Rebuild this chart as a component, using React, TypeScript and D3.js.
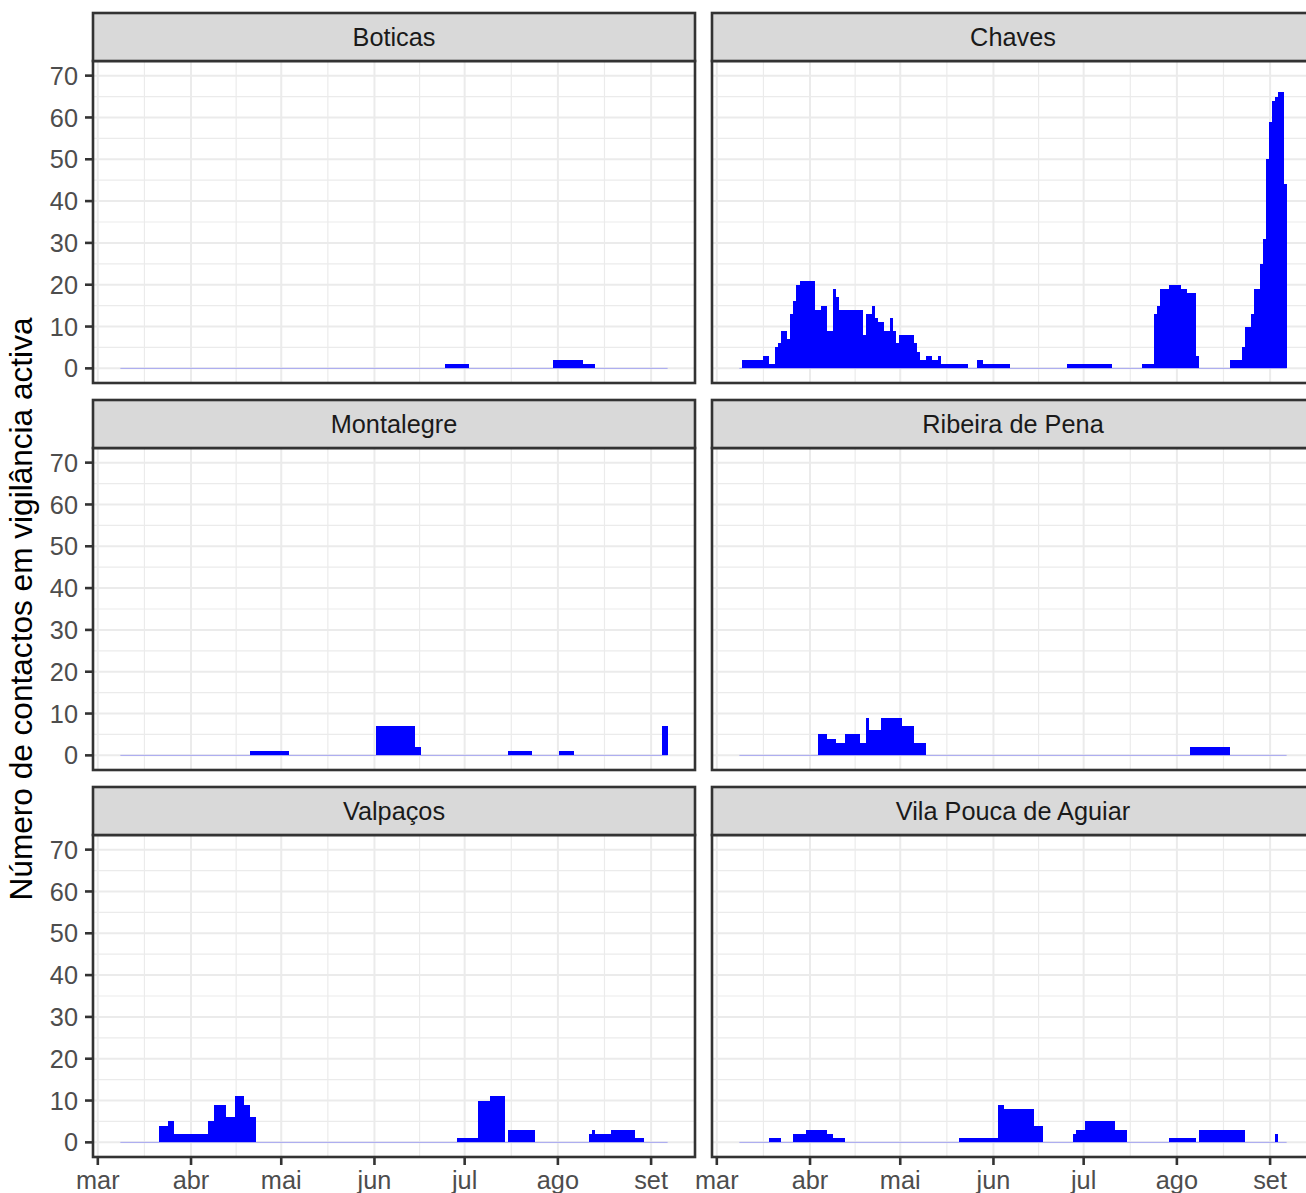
import * as d3 from 'd3';

// Contactos em vigilância activa por dia, a partir de 9 de Março de 2020
const START = new Date(2020, 2, 9);

const municipios = [
  'Boticas',
  'Chaves',
  'Montalegre',
  'Ribeira de Pena',
  'Valpaços',
  'Vila Pouca de Aguiar',
];

const boticas = [
  0, 0, 0, 0, 0, 0, 0, 0, 0, 0, 0, 0, 0, 0, 0, 0, 0, 0, 0, 0,
  0, 0, 0, 0, 0, 0, 0, 0, 0, 0, 0, 0, 0, 0, 0, 0, 0, 0, 0, 0,
  0, 0, 0, 0, 0, 0, 0, 0, 0, 0, 0, 0, 0, 0, 0, 0, 0, 0, 0, 0,
  0, 0, 0, 0, 0, 0, 0, 0, 0, 0, 0, 0, 0, 0, 0, 0, 0, 0, 0, 0,
  0, 0, 0, 0, 0, 0, 0, 0, 0, 0, 0, 0, 0, 0, 0, 0, 0, 0, 0, 0,
  0, 0, 0, 0, 0, 0, 0, 0, 1, 1, 1, 1, 1, 1, 1, 1, 0, 0, 0, 0,
  0, 0, 0, 0, 0, 0, 0, 0, 0, 0, 0, 0, 0, 0, 0, 0, 0, 0, 0, 0,
  0, 0, 0, 0, 2, 2, 2, 2, 2, 2, 2, 2, 2, 2, 1, 1, 1, 1, 0, 0,
  0, 0, 0, 0, 0, 0, 0, 0, 0, 0, 0, 0, 0, 0, 0, 0, 0, 0, 0, 0,
  0, 0,
];

const chaves = [
  0, 2, 2, 2, 2, 2, 2, 2, 3, 3, 1, 1, 5, 6, 9, 9, 7, 13, 16, 20,
  21, 21, 21, 21, 21, 14, 14, 15, 15, 9, 9, 19, 17, 14, 14, 14, 14, 14, 14, 14,
  14, 8, 13, 13, 15, 12, 11, 11, 9, 9, 12, 9, 6, 8, 8, 8, 8, 8, 6, 4,
  2, 2, 3, 3, 2, 2, 3, 1, 1, 1, 1, 1, 1, 1, 1, 1, 0, 0, 0, 2,
  2, 1, 1, 1, 1, 1, 1, 1, 1, 1, 0, 0, 0, 0, 0, 0, 0, 0, 0, 0,
  0, 0, 0, 0, 0, 0, 0, 0, 0, 1, 1, 1, 1, 1, 1, 1, 1, 1, 1, 1,
  1, 1, 1, 1, 0, 0, 0, 0, 0, 0, 0, 0, 0, 0, 1, 1, 1, 1, 13, 15,
  19, 19, 19, 20, 20, 20, 20, 19, 19, 18, 18, 18, 3, 0, 0, 0, 0, 0, 0, 0,
  0, 0, 0, 2, 2, 2, 2, 5, 10, 10, 13, 19, 19, 25, 31, 50, 59, 64, 65, 66,
  66, 44,
];

const montalegre = [
  0, 0, 0, 0, 0, 0, 0, 0, 0, 0, 0, 0, 0, 0, 0, 0, 0, 0, 0, 0,
  0, 0, 0, 0, 0, 0, 0, 0, 0, 0, 0, 0, 0, 0, 0, 0, 0, 0, 0, 0,
  0, 0, 0, 1, 1, 1, 1, 1, 1, 1, 1, 1, 1, 1, 1, 1, 0, 0, 0, 0,
  0, 0, 0, 0, 0, 0, 0, 0, 0, 0, 0, 0, 0, 0, 0, 0, 0, 0, 0, 0,
  0, 0, 0, 0, 0, 7, 7, 7, 7, 7, 7, 7, 7, 7, 7, 7, 7, 7, 2, 2,
  0, 0, 0, 0, 0, 0, 0, 0, 0, 0, 0, 0, 0, 0, 0, 0, 0, 0, 0, 0,
  0, 0, 0, 0, 0, 0, 0, 0, 0, 1, 1, 1, 1, 1, 1, 1, 1, 0, 0, 0,
  0, 0, 0, 0, 0, 0, 1, 1, 1, 1, 1, 0, 0, 0, 0, 0, 0, 0, 0, 0,
  0, 0, 0, 0, 0, 0, 0, 0, 0, 0, 0, 0, 0, 0, 0, 0, 0, 0, 0, 0,
  7, 7,
];

const ribeiraDePena = [
  0, 0, 0, 0, 0, 0, 0, 0, 0, 0, 0, 0, 0, 0, 0, 0, 0, 0, 0, 0,
  0, 0, 0, 0, 0, 0, 5, 5, 5, 4, 4, 4, 3, 3, 3, 5, 5, 5, 5, 5,
  3, 3, 9, 6, 6, 6, 6, 9, 9, 9, 9, 9, 9, 9, 7, 7, 7, 7, 3, 3,
  3, 3, 0, 0, 0, 0, 0, 0, 0, 0, 0, 0, 0, 0, 0, 0, 0, 0, 0, 0,
  0, 0, 0, 0, 0, 0, 0, 0, 0, 0, 0, 0, 0, 0, 0, 0, 0, 0, 0, 0,
  0, 0, 0, 0, 0, 0, 0, 0, 0, 0, 0, 0, 0, 0, 0, 0, 0, 0, 0, 0,
  0, 0, 0, 0, 0, 0, 0, 0, 0, 0, 0, 0, 0, 0, 0, 0, 0, 0, 0, 0,
  0, 0, 0, 0, 0, 0, 0, 0, 0, 0, 2, 2, 2, 2, 2, 2, 2, 2, 2, 2,
  2, 2, 2, 0, 0, 0, 0, 0, 0, 0, 0, 0, 0, 0, 0, 0, 0, 0, 0, 0,
  0, 0,
];

const valpacos = [
  0, 0, 0, 0, 0, 0, 0, 0, 0, 0, 0, 0, 0, 4, 4, 4, 5, 5, 2, 2,
  2, 2, 2, 2, 2, 2, 2, 2, 2, 5, 5, 9, 9, 9, 9, 6, 6, 6, 11, 11,
  11, 9, 9, 6, 6, 0, 0, 0, 0, 0, 0, 0, 0, 0, 0, 0, 0, 0, 0, 0,
  0, 0, 0, 0, 0, 0, 0, 0, 0, 0, 0, 0, 0, 0, 0, 0, 0, 0, 0, 0,
  0, 0, 0, 0, 0, 0, 0, 0, 0, 0, 0, 0, 0, 0, 0, 0, 0, 0, 0, 0,
  0, 0, 0, 0, 0, 0, 0, 0, 0, 0, 0, 0, 1, 1, 1, 1, 1, 1, 1, 10,
  10, 10, 10, 11, 11, 11, 11, 11, 0, 3, 3, 3, 3, 3, 3, 3, 3, 3, 0, 0,
  0, 0, 0, 0, 0, 0, 0, 0, 0, 0, 0, 0, 0, 0, 0, 0, 2, 3, 2, 2,
  2, 2, 2, 3, 3, 3, 3, 3, 3, 3, 3, 1, 1, 1, 0, 0, 0, 0, 0, 0,
  0, 0,
];

const vilaPoucaDeAguiar = [
  0, 0, 0, 0, 0, 0, 0, 0, 0, 0, 1, 1, 1, 1, 0, 0, 0, 0, 2, 2,
  2, 2, 3, 3, 3, 3, 3, 3, 3, 2, 2, 1, 1, 1, 1, 0, 0, 0, 0, 0,
  0, 0, 0, 0, 0, 0, 0, 0, 0, 0, 0, 0, 0, 0, 0, 0, 0, 0, 0, 0,
  0, 0, 0, 0, 0, 0, 0, 0, 0, 0, 0, 0, 0, 1, 1, 1, 1, 1, 1, 1,
  1, 1, 1, 1, 1, 1, 9, 9, 8, 8, 8, 8, 8, 8, 8, 8, 8, 8, 4, 4,
  4, 0, 0, 0, 0, 0, 0, 0, 0, 0, 0, 2, 3, 3, 3, 5, 5, 5, 5, 5,
  5, 5, 5, 5, 5, 3, 3, 3, 3, 0, 0, 0, 0, 0, 0, 0, 0, 0, 0, 0,
  0, 0, 0, 1, 1, 1, 1, 1, 1, 1, 1, 1, 0, 3, 3, 3, 3, 3, 3, 3,
  3, 3, 3, 3, 3, 3, 3, 3, 0, 0, 0, 0, 0, 0, 0, 0, 0, 0, 2, 0,
  0, 0,
];

const series = [boticas, chaves, montalegre, ribeiraDePena, valpacos, vilaPoucaDeAguiar];

const yTicks = [0, 10, 20, 30, 40, 50, 60, 70];
const yMinorTicks = [5, 15, 25, 35, 45, 55, 65];
const monthStarts = [
  new Date(2020, 2, 1),
  new Date(2020, 3, 1),
  new Date(2020, 4, 1),
  new Date(2020, 5, 1),
  new Date(2020, 6, 1),
  new Date(2020, 7, 1),
  new Date(2020, 8, 1),
];
const monthLabels = ['mar', 'abr', 'mai', 'jun', 'jul', 'ago', 'set'];

const FONT = "'Liberation Sans', Arial, Helvetica, sans-serif";

// layout
const W = 602;
const H = 322;
const STRIP = 48;
const colX = [93, 712];
const rowY = [13, 400, 787];

export default function App() {
  const days = chaves.map((_, i) => d3.timeDay.offset(START, i));
  const lo = d3.timeHour.offset(days[0], -12);
  const hi = d3.timeHour.offset(days[days.length - 1], 12);
  const pad = (hi.getTime() - lo.getTime()) * 0.05;

  const x = d3
    .scaleTime()
    .domain([new Date(lo.getTime() - pad), new Date(hi.getTime() + pad)])
    .range([0, W]);
  const y = d3.scaleLinear().domain([-3.5, 73.5]).range([H, 0]);

  const [dMin, dMax] = x.domain();
  // minor breaks sit halfway between month starts
  const allMonths = [d3.timeMonth.offset(monthStarts[0], -1), ...monthStarts, d3.timeMonth.offset(monthStarts[monthStarts.length - 1], 1)];
  const xMinor = d3
    .pairs(allMonths)
    .map(([a, b]) => new Date((a.getTime() + b.getTime()) / 2))
    .filter((d) => d >= dMin && d <= dMax);

  return (
    <svg
      width={1306}
      height={1193}
      style={{ position: 'absolute', left: 0, top: 0, display: 'block', background: '#fff' }}
      fontFamily={FONT}
    >
      <rect width={1306} height={1193} fill='#fff' />

      {municipios.map((name, k) => {
        const col = k % 2;
        const row = Math.floor(k / 2);
        const values = series[k];
        const px = colX[col];
        const py = rowY[row] + STRIP;
        return (
          <g key={name}>
            <g transform={`translate(${px},${py})`}>
              <rect width={W} height={H} fill='#fff' />
              {yMinorTicks.map((t) => (
                <line key={`ym${t}`} x1={0} x2={W} y1={y(t)} y2={y(t)} stroke='#ebebeb' strokeWidth={1.2} />
              ))}
              {xMinor.map((d) => (
                <line key={`xm${d.getTime()}`} x1={x(d)} x2={x(d)} y1={0} y2={H} stroke='#ebebeb' strokeWidth={1.2} />
              ))}
              {yTicks.map((t) => (
                <line key={`y${t}`} x1={0} x2={W} y1={y(t)} y2={y(t)} stroke='#ebebeb' strokeWidth={2} />
              ))}
              {monthStarts.map((d) => (
                <line key={`x${d.getTime()}`} x1={x(d)} x2={x(d)} y1={0} y2={H} stroke='#ebebeb' strokeWidth={2} />
              ))}

              {/* zero-height columns show as a faint line */}
              <line x1={x(lo)} x2={x(hi)} y1={y(0)} y2={y(0)} stroke='#0000ff' strokeOpacity={0.3} strokeWidth={1} />

              <g shapeRendering='crispEdges'>
                {values.map((v, i) =>
                  v > 0 ? (
                    <rect
                      key={i}
                      x={x(d3.timeHour.offset(days[i], -12))}
                      width={x(d3.timeHour.offset(days[i], 12)) - x(d3.timeHour.offset(days[i], -12))}
                      y={y(v)}
                      height={y(0) - y(v)}
                      fill='#0000ff'
                    />
                  ) : null,
                )}
              </g>

              <rect width={W} height={H} fill='none' stroke='#333333' strokeWidth={2.6} />

              {col === 0 &&
                yTicks.map((t) => (
                  <g key={`yt${t}`}>
                    <line x1={-8} x2={0} y1={y(t)} y2={y(t)} stroke='#333333' strokeWidth={2.6} />
                    <text x={-15} y={y(t)} dy='0.36em' textAnchor='end' fontSize={25.3} fill='#4d4d4d'>
                      {t}
                    </text>
                  </g>
                ))}

              {row === 2 &&
                monthStarts.map((d, j) => (
                  <g key={`xt${j}`}>
                    <line x1={x(d)} x2={x(d)} y1={H} y2={H + 8} stroke='#333333' strokeWidth={2.6} />
                    <text x={x(d)} y={H + 32} textAnchor='middle' fontSize={25.3} fill='#4d4d4d'>
                      {monthLabels[j]}
                    </text>
                  </g>
                ))}
            </g>

            {/* strip */}
            <rect x={px} y={rowY[row]} width={W} height={STRIP} fill='#d9d9d9' stroke='#333333' strokeWidth={2.6} />
            <text x={px + W / 2} y={rowY[row] + STRIP / 2} dy='0.36em' textAnchor='middle' fontSize={25.3} fill='#1a1a1a'>
              {name}
            </text>
          </g>
        );
      })}

      <text transform={`translate(32,${(rowY[0] + STRIP + rowY[2] + STRIP + H) / 2}) rotate(-90)`} textAnchor='middle' fontSize={31.6} fill='#000'>
        Número de contactos em vigilância activa
      </text>
    </svg>
  );
}
